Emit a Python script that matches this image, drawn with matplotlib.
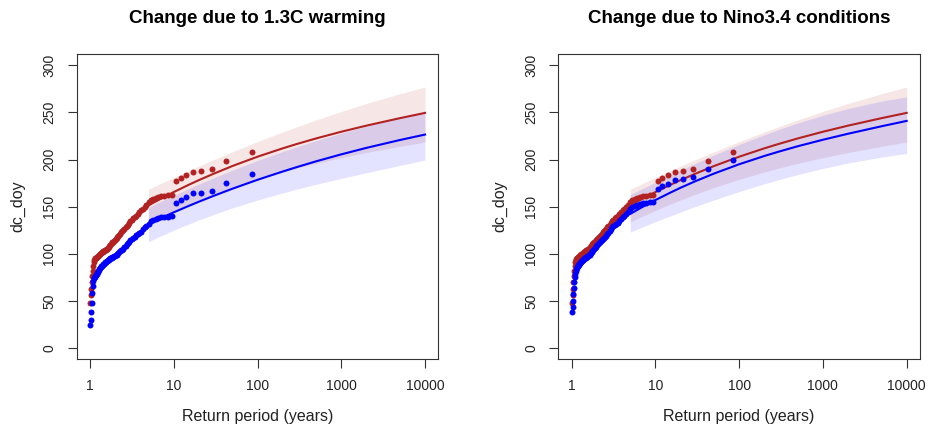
import numpy as np
import matplotlib
matplotlib.use("Agg")
import matplotlib.pyplot as plt

plt.rcParams['font.family'] = ['Liberation Sans', 'DejaVu Sans']

# empirical return periods (85 / rank)
return_period = [85, 42.5, 28.333, 21.25, 17, 14.167, 12.143, 10.625, 9.444, 8.5,
                 7.727, 7.083, 6.538, 6.071, 5.667, 5.313, 5, 4.722, 4.474, 4.25,
                 4.048, 3.864, 3.696, 3.542, 3.4, 3.269, 3.148, 3.036, 2.931, 2.833,
                 2.742, 2.656, 2.576, 2.5, 2.429, 2.361, 2.297, 2.237, 2.179, 2.125,
                 2.073, 2.024, 1.977, 1.932, 1.889, 1.848, 1.809, 1.771, 1.735, 1.7,
                 1.667, 1.635, 1.604, 1.574, 1.545, 1.518, 1.491, 1.466, 1.441, 1.417,
                 1.393, 1.371, 1.349, 1.328, 1.308, 1.288, 1.269, 1.25, 1.232, 1.214,
                 1.197, 1.181, 1.164, 1.149, 1.133, 1.118, 1.104, 1.09, 1.076, 1.063,
                 1.049, 1.037, 1.024, 1.012]

# observed values in the present (warmer) climate - same in both panels
obs_now = [207.5, 198.5, 189.5, 187.5, 187, 183.5, 180, 177,
           162.5, 162, 161.5, 161, 160.5, 159.5, 158.5, 157, 154.5,
           152, 150, 148, 146,
           144, 142, 140.5, 139, 137.5, 136, 135,
           133, 131, 129.5, 128, 126.5, 125,
           124, 123, 121.5, 120, 119, 118, 117, 116,
           115, 114, 113, 112, 111, 110, 109, 108, 107, 106, 105.5, 105, 104.5, 104, 103.5,
           103, 102.5, 102, 101.5, 101, 100.5, 100, 99.5, 99, 98.5, 98, 97.5, 97, 96.5,
           96, 95.5, 95, 94, 93, 91,
           87, 82, 76, 70, 63, 56, 48]

# observed values shifted to the 1.3C cooler climate
obs_cool = [184.5, 175.5, 167, 165, 164.5, 160.5, 157.5, 154,
            140, 139.5, 139, 138.5, 138, 137, 136, 134.5, 132,
            130, 128, 126, 123.5,
            122, 121, 119.5, 118, 117, 115.5, 114.5,
            113, 111.5, 110, 108.5, 107, 105.5,
            104.5, 103.5, 102.5, 101.5, 100.5, 99.5, 99, 98.5,
            98, 97.5, 97, 96.5, 96, 95.5, 95, 94, 93.5, 93, 92.5, 92, 91.5, 91, 90,
            89.5, 89, 88, 87.5, 87, 86, 85, 84.5, 84, 83, 82, 81, 80, 79,
            78, 77, 76, 75, 74.5, 74,
            71, 66, 58, 48, 38, 30, 24.5]

# observed values shifted to neutral Nino3.4 conditions
obs_nino = [199.5, 190, 181, 179, 178.5, 174.5, 172, 168.5,
            155, 154.5, 154, 153.5, 153, 152, 151, 149.5, 147,
            144.5, 142.5, 140.5, 138.5,
            136.5, 134.5, 133, 131.5, 130.5, 129.5, 128.5,
            126, 124, 122.5, 121, 119, 117.5,
            116.5, 115.5, 114.5, 113.5, 112.5, 111.5, 110.5, 109.5,
            108, 107, 106, 105, 104, 103, 102, 101, 100, 99, 98.5, 98, 97.5, 97, 96.5,
            96, 95.5, 95, 94, 93.5, 93, 92.5, 92, 91, 90.5, 90, 89, 88.5, 88,
            87, 86, 85, 84, 82, 79,
            75, 70, 64, 57, 50, 44, 38.5]

# fitted return level curves with confidence bounds
fit_rp = [5, 7, 10, 15, 20, 30, 50, 100, 200, 300, 500, 1000, 2000, 5000, 10000]

now_est = [151.4, 158.4, 165.5, 173.1, 178.2, 185.0, 193.1, 203, 211.9, 216.7, 222.4, 229.5, 236.0, 243.9, 249.5]
now_lo = [133.6, 139.8, 146, 152.7, 157.2, 163.2, 170.3, 179, 186.8, 191.0, 195.9, 202, 207.5, 214.0, 218.5]
now_hi = [168.4, 174.6, 181, 188.1, 193.1, 199.9, 208.2, 219, 229.3, 235.0, 242.0, 251, 259.5, 269.8, 277]

cool_est = [131.9, 137.9, 144, 150.7, 155.3, 161.5, 169.0, 178.5, 187.3, 192.2, 198.1, 205.5, 212.4, 220.7, 226.5]
cool_lo = [112.8, 118.9, 125, 131.5, 135.9, 141.7, 148.6, 157, 164.6, 168.8, 173.7, 180, 186.0, 193.7, 199.5]
cool_hi = [149.1, 155.5, 162, 169.1, 174.0, 180.7, 188.7, 199, 208.5, 213.8, 220.1, 228, 235.3, 244.1, 250]

nino_est = [142.3, 149.7, 157, 164.8, 170.1, 177.0, 185.1, 195, 203.8, 208.5, 214.1, 221, 227.4, 235.3, 241]
nino_lo = [123.0, 128.4, 134, 140.1, 144.4, 150.1, 157.1, 166, 174.2, 178.7, 184.0, 190.5, 196.3, 202.6, 206.5]
nino_hi = [162.6, 169.2, 176, 183.6, 188.8, 196.0, 204.8, 216, 226.4, 232.1, 238.8, 247, 254.2, 262.0, 266.5]

titles = ['Change due to 1.3C warming', 'Change due to Nino3.4 conditions']
x_ticks = [1, 10, 100, 1000, 10000]
x_ticklabels = ['1', '10', '100', '1000', '10000']
y_ticks = [0, 50, 100, 150, 200, 250, 300]

RED = '#b22222'
BLUE = '#0000ff'

fig = plt.figure(figsize=(9.32, 4.30), dpi=100)
ax_left = fig.add_axes([0.0822, 0.1644, 0.3882, 0.7100])
ax_right = fig.add_axes([0.5990, 0.1644, 0.3882, 0.7100])

panels = [
    (ax_left, titles[0], obs_cool, cool_est, cool_lo, cool_hi),
    (ax_right, titles[1], obs_nino, nino_est, nino_lo, nino_hi),
]

for ax, title, obs_alt, alt_est, alt_lo, alt_hi in panels:
    ax.set_xscale('log')

    # confidence bands
    ax.fill_between(fit_rp, now_lo, now_hi, color=RED, alpha=0.11, lw=0, zorder=1)
    ax.fill_between(fit_rp, alt_lo, alt_hi, color=BLUE, alpha=0.11, lw=0, zorder=1)

    # fitted curves
    ax.plot(fit_rp, now_est, color=RED, lw=1.5, zorder=2)
    ax.plot(fit_rp, alt_est, color=BLUE, lw=1.5, zorder=2)

    # observations
    ax.plot(return_period, obs_now, 'o', color=RED, ms=4.3, mew=0, zorder=3)
    ax.plot(return_period, obs_alt, 'o', color=BLUE, ms=4.3, mew=0, zorder=3)

    ax.set_xlim(10 ** -0.16, 10 ** 4.16)
    ax.set_ylim(-12, 312)
    ax.set_xticks(x_ticks)
    ax.set_xticklabels(x_ticklabels)
    ax.minorticks_off()
    ax.set_yticks(y_ticks)
    ax.set_yticklabels([str(v) for v in y_ticks], rotation=90, va='center')
    ax.tick_params(axis='both', length=6.5, width=0.8, color='#333333',
                   labelsize=10, pad=8, labelcolor='#222222')

    for s in ax.spines.values():
        s.set_color('#333333')
        s.set_linewidth(0.8)

    ax.set_title(title, fontsize=13.5, fontweight='bold', pad=22)
    ax.set_xlabel('Return period (years)', fontsize=11.5, color='#222222')
    ax.xaxis.set_label_coords(0.5, -0.187)
    ax.xaxis.label.set_va('center')
    ax.set_ylabel('dc_doy', fontsize=11.5, color='#222222')
    ax.yaxis.set_label_coords(-0.162, 0.5)
    ax.yaxis.label.set_va('center')

fig.savefig('out.png', dpi=100)
